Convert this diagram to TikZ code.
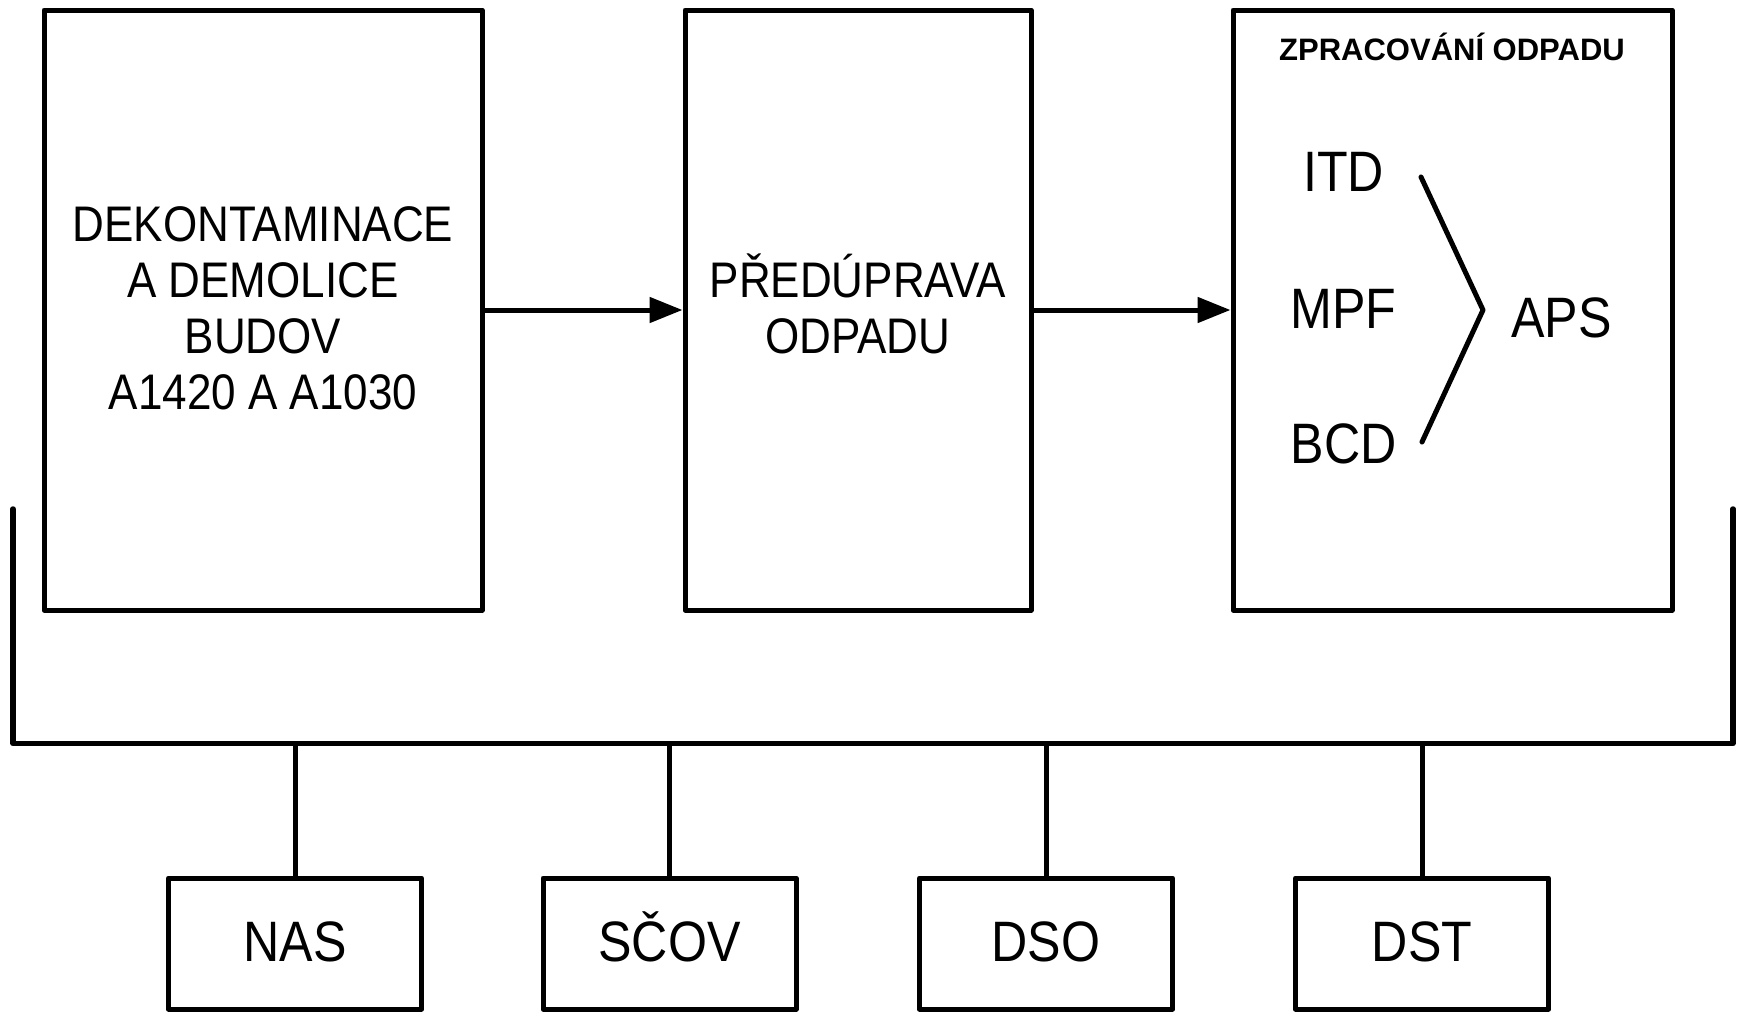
\documentclass[tikz,border=0pt]{standalone}
\usepackage{fontspec}
\usetikzlibrary{arrows.meta}
\newfontfamily\nfont[FakeStretch=0.88]{Liberation Sans}
\newfontfamily\ttlfont{Liberation Sans}
\tikzset{
  boxline/.style={draw=black, line width=5pt, line join=round, inner sep=0pt},
  bigbox/.style={boxline, minimum height=600pt},
  smallbox/.style={boxline, minimum width=253pt, minimum height=131pt,
     font=\nfont\fontsize{57}{64}\selectfont, text height=35pt, text depth=0pt},
  bodytext/.style={font=\nfont\fontsize{50}{56}\selectfont, align=center, inner sep=0pt},
  proc/.style={font=\nfont\fontsize{57}{64}\selectfont, inner sep=0pt, anchor=base},
  wire/.style={line width=5pt, line cap=round, line join=round},
  flow/.style={wire, line cap=butt, -{Triangle[length=33pt,width=25pt]}}
}
\begin{document}
\begin{tikzpicture}[x=1pt,y=-1pt]
\useasboundingbox (0,0) rectangle (1738,1012);
% main boxes
\node[bigbox, minimum width=438pt] (b1) at (263,310) {};
\node[bigbox, minimum width=346pt] (b2) at (858,310) {};
\node[bigbox, minimum width=439pt] (b3) at (1452.5,310) {};
% texts
\node[bodytext] (t1) at (263,308) {DEKONTAMINACE\\A DEMOLICE\\BUDOV\\A1420 A A1030};
\node[bodytext] (t2) at (858,304) {PŘEDÚPRAVA\\ODPADU};
\node[font=\ttlfont\bfseries\fontsize{31}{36}\selectfont, anchor=base, inner sep=0pt] (ttl) at (1452,60) {ZPRACOVÁNÍ ODPADU};
\node[proc] (itd) at (1343.5,191) {ITD};
\node[proc] (mpf) at (1343.5,328) {MPF};
\node[proc] (bcd) at (1343.5,463) {BCD};
\node[proc] (aps) at (1561.5,337) {APS};
% chevron
\coordinate (c1) at (1421,177);
\coordinate (c2) at (1483,310);
\coordinate (c3) at (1422,442);
\draw[wire] (c1) -- (c2) -- (c3);
% flow arrows
\draw[flow] (b1.east) -- (b2.west);
\draw[flow] (b2.east) -- (b3.west);
% bus
\coordinate (busLT) at (13,509);
\coordinate (busLB) at (13,743.5);
\coordinate (busRB) at (1733,743.5);
\coordinate (busRT) at (1733,509);
\draw[wire, line width=5.5pt] (busLT) -- (busLB) -- (busRB) -- (busRT);
% bottom boxes
\node[smallbox] (nas) at (295,943.5) {NAS};
\node[smallbox] (scov) at (669.5,943.5) {SČOV};
\node[smallbox] (dso) at (1046,943.5) {DSO};
\node[smallbox] (dst) at (1422,943.5) {DST};
\foreach \n in {nas,scov,dso,dst}
  \draw[wire, line cap=butt] (\n.north) -- (\n.north |- busLB);
\end{tikzpicture}
\end{document}
